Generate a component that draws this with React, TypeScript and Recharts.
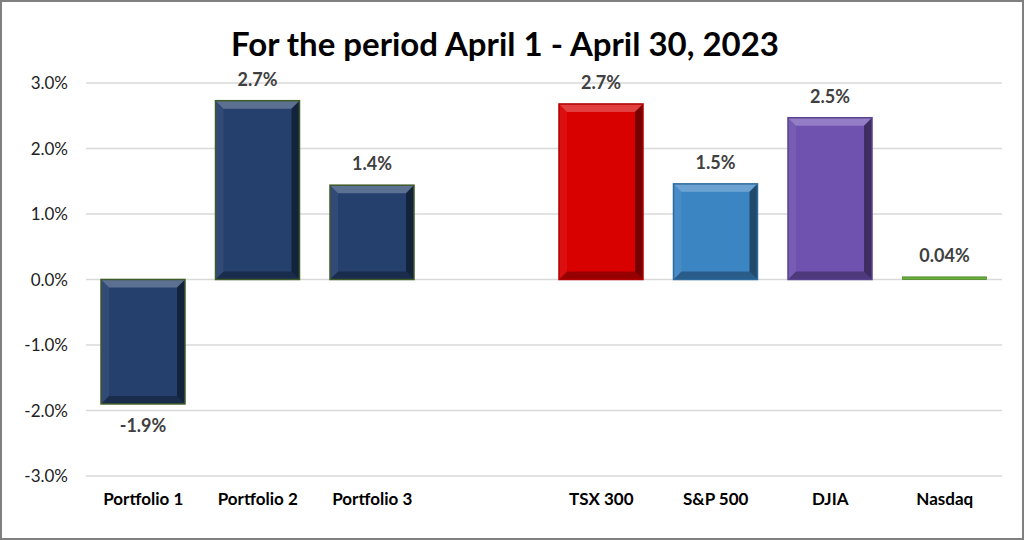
import React from 'react';
import { BarChart, Bar, XAxis, YAxis, CartesianGrid, Cell, LabelList } from 'recharts';

const categories = ['Portfolio 1', 'Portfolio 2', 'Portfolio 3', '', 'TSX 300', 'S&P 500', 'DJIA', 'Nasdaq'];
const values: (number | null)[] = [-1.9, 2.73, 1.44, null, 2.68, 1.46, 2.47, 0.04];
const valueLabels = ['-1.9%', '2.7%', '1.4%', '', '2.7%', '1.5%', '2.5%', '0.04%'];
const yTicks = [-3, -2, -1, 0, 1, 2, 3];
const colors = ['#26406E', '#26406E', '#26406E', '#000000', '#D90000', '#3C85C3', '#6F52B0', '#6AAE3A'];
const strokes = ['#3E5A28', '#3E5A28', '#3E5A28', 'none', '#B00000', '#2F6A9C', '#5A4290', '#4E8A2A'];

const data = categories.map((c, i) => ({ name: c, value: values[i], label: valueLabels[i] }));

const FONT = 'Lato, "Open Sans", sans-serif';

const BevelBar = (props: any) => {
  const { x, y, width, height, payload } = props;
  if (height === 0 || height == null) return null;
  const index = categories.indexOf(payload?.name);
  const top = Math.min(y, y + height);
  const h = Math.abs(height);
  const w = width;
  const fill = colors[index];
  const stroke = strokes[index];
  const b = Math.min(8, h / 2, w / 2);
  if (h < 5) {
    return <rect x={x} y={top} width={w} height={h} fill={fill} stroke="#4E8A2A" strokeWidth={0.8} />;
  }
  return (
    <g>
      <rect x={x} y={top} width={w} height={h} fill={fill} />
      <polygon points={`${x},${top} ${x + w},${top} ${x + w - b},${top + b} ${x + b},${top + b}`} fill="#ffffff" fillOpacity={0.25} />
      <polygon points={`${x},${top + h} ${x + w},${top + h} ${x + w - b},${top + h - b} ${x + b},${top + h - b}`} fill="#000000" fillOpacity={0.3} />
      <polygon points={`${x},${top} ${x + b},${top + b} ${x + b},${top + h - b} ${x},${top + h}`} fill="#ffffff" fillOpacity={0.06} />
      <polygon points={`${x + w},${top} ${x + w - b},${top + b} ${x + w - b},${top + h - b} ${x + w},${top + h}`} fill="#000000" fillOpacity={0.45} />
      <rect x={x} y={top} width={w} height={h} fill="none" stroke={stroke} strokeWidth={1.5} />
    </g>
  );
};

const ValueLabel = (props: any) => {
  const { x, y, width, height, value } = props;
  if (value == null || value === '') return null;
  const neg = String(value).startsWith('-');
  const cx = x + width / 2;
  const top = Math.min(y, y + height);
  const bottom = Math.max(y, y + height);
  const ty = neg ? bottom + 28 : top - 15;
  return (
    <text x={cx} y={ty} textAnchor="middle" fontFamily={FONT} fontWeight={700} fontSize={18} fill="#404040">
      {value}
    </text>
  );
};

export default function App() {
  return (
    <div style={{ position: 'absolute', left: 0, top: 0, width: 1024, height: 540, boxSizing: 'border-box', border: '2px solid #808080', background: '#fff' }}>
      <div style={{ position: 'absolute', left: 0, top: 20, width: 1006, textAlign: 'center', fontFamily: FONT, fontWeight: 700, fontSize: 33, color: '#000', lineHeight: '42px' }}>
        For the period April 1 - April 30, 2023
      </div>
      <div style={{ position: 'absolute', left: -2, top: -2 }}>
        <BarChart width={1024} height={540} data={data} margin={{ top: 83, right: 22, bottom: 34, left: 16 }} barCategoryGap={0}>
          <CartesianGrid vertical={false} stroke="#D9D9D9" strokeWidth={1.3} />
          <XAxis dataKey="name" axisLine={false} tickLine={false} interval={0} tickMargin={11}
            tick={{ fontFamily: FONT, fontWeight: 700, fontSize: 17, fill: '#000' }} />
          <YAxis domain={[-3, 3]} ticks={yTicks} axisLine={false} tickLine={false} width={70} tickMargin={12}
            tickFormatter={(v: number) => `${v.toFixed(1)}%`}
            tick={{ fontFamily: FONT, fontSize: 17, fill: '#222' }} />
          <Bar dataKey="value" barSize={84} isAnimationActive={false} shape={<BevelBar />}>
            {data.map((d, i) => <Cell key={i} fill={colors[i]} />)}
            <LabelList dataKey="label" content={<ValueLabel />} />
          </Bar>
        </BarChart>
      </div>
    </div>
  );
}
